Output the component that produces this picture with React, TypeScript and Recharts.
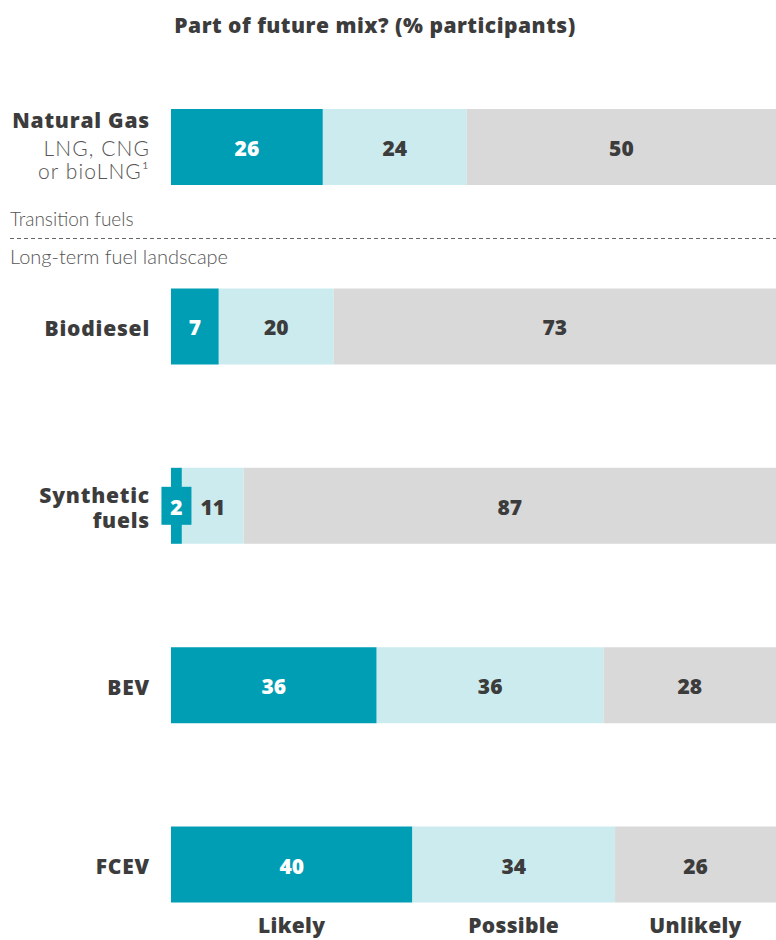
import React from "react";
import { BarChart, Bar, XAxis, YAxis, LabelList } from "recharts";

const categories = ["Natural Gas", "Biodiesel", "Synthetic fuels", "BEV", "FCEV"];
const categoryLines: string[][] = [["Natural Gas"], ["Biodiesel"], ["Synthetic", "fuels"], ["BEV"], ["FCEV"]];
const categorySubLines: string[][] = [["LNG, CNG", "or bioLNG¹"], [], [], [], []];

const likely = [25.1, 7.9, 1.8, 34.0, 39.9];
const possible = [23.8, 19.0, 10.2, 37.5, 33.5];
const unlikely = [51.1, 73.1, 88.0, 28.5, 26.6];

const likelyLabels = [26, 7, 2, 36, 40];
const possibleLabels = [24, 20, 11, 36, 34];
const unlikelyLabels = [50, 73, 87, 28, 26];

const seriesNames = ["Likely", "Possible", "Unlikely"];
const title = "Part of future mix? (% participants)";
const dividerAbove = "Transition fuels";
const dividerBelow = "Long-term fuel landscape";

const TEAL = "#009EB4";
const LIGHT = "#CCEBEF";
const GRAY = "#D9D9D9";
const DARK = "#3C3C3C";
const BOLD_FONT = "'Open Sans', 'DejaVu Sans', sans-serif";
const LIGHT_FONT = "Lato, 'Noto Sans', sans-serif";

const data = categories.map((c, i) => ({
  name: c,
  likely: likely[i],
  possible: possible[i],
  unlikely: unlikely[i],
  likelyLabel: likelyLabels[i],
  possibleLabel: possibleLabels[i],
  unlikelyLabel: unlikelyLabels[i],
}));

const CategoryTick = (props: any) => {
  const { x, y, payload } = props;
  const idx = categories.indexOf(payload.value);
  const main = categoryLines[idx] || [payload.value];
  const sub = categorySubLines[idx] || [];
  const tx = x;
  if (sub.length > 0) {
    return (
      <g>
        <text x={tx} y={y - 27} textAnchor="end" dominantBaseline="central" fontFamily={BOLD_FONT} fontWeight={800} fontSize={21} letterSpacing={0.8} fill={DARK}>
          {main[0]}
        </text>
        {sub.map((s, k) => (
          <text key={k} x={tx} y={y + 1 + k * 23} textAnchor="end" dominantBaseline="central" fontFamily={LIGHT_FONT} fontWeight={300} fontSize={21} letterSpacing={1.1} fill="#555">
            {s}
          </text>
        ))}
      </g>
    );
  }
  const lh = 25;
  const start = y - ((main.length - 1) * lh) / 2 + 2;
  return (
    <g>
      {main.map((m, k) => (
        <text key={k} x={tx} y={start + k * lh} textAnchor="end" dominantBaseline="central" fontFamily={BOLD_FONT} fontWeight={800} fontSize={21} letterSpacing={0.8} fill={DARK}>
          {m}
        </text>
      ))}
    </g>
  );
};

const makeValueLabel = (labels: number[], color: string, boxFill?: string) => (props: any) => {
  const { x, y, width, height, index } = props;
  const cx = x + width / 2;
  const cy = y + height / 2;
  const small = width < 28;
  return (
    <g>
      {small && boxFill ? <rect x={cx - 15} y={cy - 19} width={30} height={38} fill={boxFill} /> : null}
      <text x={cx} y={cy + 1} textAnchor="middle" dominantBaseline="central" fontFamily={BOLD_FONT} fontWeight={800} fontSize={21} fill={color}>
        {labels[index]}
      </text>
    </g>
  );
};

const makeSeriesLabel = (name: string) => (props: any) => {
  const { x, y, width, height, index } = props;
  if (index !== categories.length - 1) return null;
  return (
    <text x={x + width / 2} y={y + height + 22} textAnchor="middle" dominantBaseline="central" fontFamily={BOLD_FONT} fontWeight={800} fontSize={21} letterSpacing={0.3} fill={DARK}>
      {name}
    </text>
  );
};

export default function App() {
  return (
    <div style={{ position: "absolute", left: 0, top: 0, width: 776, height: 940, overflow: "hidden", background: "#fff" }}>
      <BarChart
        width={776}
        height={954}
        data={data}
        layout="vertical"
        margin={{ top: 57, right: 0, bottom: 0, left: 0 }}
        barCategoryGap={0}
      >
        <XAxis type="number" domain={[0, 100]} hide />
        <YAxis
          type="category"
          dataKey="name"
          width={171}
          axisLine={false}
          tickLine={false}
          tickSize={0}
          tickMargin={21}
          tick={<CategoryTick />}
          interval={0}
        />
        <Bar dataKey="likely" stackId="a" fill={TEAL} barSize={76} isAnimationActive={false}>
          <LabelList dataKey="likelyLabel" content={makeValueLabel(likelyLabels, "#fff", TEAL)} />
          <LabelList dataKey="likelyLabel" content={makeSeriesLabel(seriesNames[0])} />
        </Bar>
        <Bar dataKey="possible" stackId="a" fill={LIGHT} barSize={76} isAnimationActive={false}>
          <LabelList dataKey="possibleLabel" content={makeValueLabel(possibleLabels, DARK)} />
          <LabelList dataKey="possibleLabel" content={makeSeriesLabel(seriesNames[1])} />
        </Bar>
        <Bar dataKey="unlikely" stackId="a" fill={GRAY} barSize={76} isAnimationActive={false}>
          <LabelList dataKey="unlikelyLabel" content={makeValueLabel(unlikelyLabels, DARK)} />
          <LabelList dataKey="unlikelyLabel" content={makeSeriesLabel(seriesNames[2])} />
        </Bar>
      </BarChart>
      <svg width={776} height={940} style={{ position: "absolute", left: 0, top: 0, pointerEvents: "none" }}>
        <text x={375} y={25} textAnchor="middle" dominantBaseline="central" fontFamily={BOLD_FONT} fontWeight={800} fontSize={21} letterSpacing={0.5} fill={DARK}>
          {title}
        </text>
        <text x={10} y={218} dominantBaseline="central" fontFamily={LIGHT_FONT} fontWeight={300} fontSize={19} fill="#555">
          {dividerAbove}
        </text>
        <line x1={10} x2={776} y1={238.5} y2={238.5} stroke="#666" strokeDasharray="4 3" strokeWidth={1} />
        <text x={10} y={256} dominantBaseline="central" fontFamily={LIGHT_FONT} fontWeight={300} fontSize={20} fill="#555">
          {dividerBelow}
        </text>
      </svg>
    </div>
  );
}
